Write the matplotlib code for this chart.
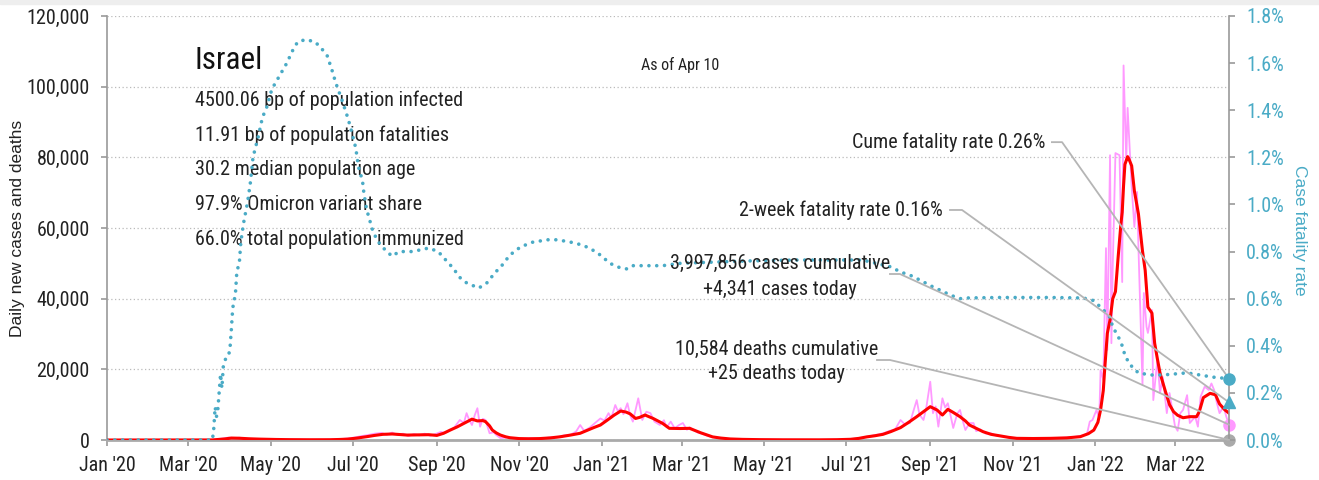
import numpy as np
import pandas as pd
import matplotlib
matplotlib.use("Agg")
import matplotlib.pyplot as plt
from matplotlib import font_manager
from matplotlib.patches import Rectangle
from matplotlib.ticker import FuncFormatter, MultipleLocator

# ---------------------------------------------------------------- data
START = pd.Timestamp("2020-01-01")
END = pd.Timestamp("2022-04-10")

# case fatality rate (%), keyed by days since 2020-01-01
cfr_day = [0, 78, 79, 80, 81, 82, 84, 85, 86, 88, 90, 91, 92, 93, 95, 96, 98, 99, 101, 104,
           106, 108, 112, 115, 118, 122, 126, 130, 133, 137, 141, 147, 154, 159, 163, 167,
           169, 174, 178, 180, 184, 186, 189, 190, 192, 195, 197, 202, 207, 211, 216, 226,
           238, 245, 252, 256, 261, 266, 275, 281, 287, 292, 298, 306, 315, 326, 333, 343,
           350, 357, 365, 372, 380, 385, 389, 400, 411, 424, 448, 473, 510, 559, 574, 580,
           587, 594, 601, 611, 616, 624, 631, 636, 660, 698, 722, 729, 736, 742, 744, 748,
           751, 753, 756, 759, 763, 768, 773, 781, 799, 818, 830]
cfr_pct = [0, 0, 0.05, 0.14, 0.10, 0.13, 0.28, 0.22, 0.31, 0.35, 0.36, 0.39, 0.47, 0.56, 0.62,
           0.71, 0.76, 0.84, 0.92, 1.01, 1.09, 1.20, 1.29, 1.37, 1.41, 1.49, 1.53, 1.57, 1.60,
           1.65, 1.69, 1.70, 1.69, 1.66, 1.63, 1.56, 1.52, 1.44, 1.37, 1.33, 1.24, 1.16, 1.10,
           1.05, 0.98, 0.92, 0.88, 0.83, 0.80, 0.78, 0.80, 0.80, 0.815, 0.80, 0.755, 0.73,
           0.69, 0.667, 0.645, 0.667, 0.71, 0.74, 0.785, 0.82, 0.84, 0.85, 0.85, 0.84, 0.83,
           0.815, 0.785, 0.75, 0.73, 0.726, 0.74, 0.74, 0.74, 0.75, 0.755, 0.76, 0.764, 0.764,
           0.743, 0.735, 0.713, 0.70, 0.68, 0.65, 0.637, 0.615, 0.60, 0.603, 0.605, 0.605,
           0.603, 0.594, 0.56, 0.52, 0.48, 0.44, 0.40, 0.36, 0.327, 0.306, 0.285, 0.28, 0.276,
           0.276, 0.285, 0.267, 0.26]

# 7-day average of new cases
avg_day = [0, 70, 78, 82, 87, 92, 98, 105, 113, 125, 135, 150, 165, 172, 178, 185, 192, 198,
           204, 211, 217, 222, 231, 238, 244, 249, 254, 259, 263, 267, 270, 274, 278, 280, 283,
           285, 288, 291, 295, 298, 305, 312, 320, 328, 335, 343, 350, 355, 360, 365, 370, 375,
           380, 384, 387, 391, 394, 398, 404, 411, 416, 424, 431, 435, 439, 444, 448, 454, 461,
           470, 483, 500, 527, 540, 550, 556, 562, 568, 574, 580, 587, 593, 599, 604, 609, 614,
           618, 622, 626, 631, 635, 638, 643, 648, 654, 661, 667, 673, 685, 698, 710, 720, 726,
           730, 733, 735, 737, 738, 740, 742, 744, 746, 748, 750, 751, 752, 753, 755, 756, 758,
           760, 763, 766, 768, 770, 773, 775, 777, 779, 783, 786, 789, 792, 796, 801, 806, 808,
           811, 816, 820, 823, 827, 830]
avg_cases = [0, 0, 20, 150, 300, 550, 500, 350, 250, 150, 100, 70, 80, 150, 250, 550, 930,
             1300, 1600, 1700, 1550, 1400, 1450, 1500, 1300, 1900, 2830, 3700, 4500, 5300,
             5900, 5400, 5500, 5200, 4000, 2830, 2000, 1400, 900, 650, 400, 350, 400, 600, 900,
             1400, 1900, 2700, 3500, 4240, 5600, 7000, 8200, 7900, 7400, 6100, 6400, 7070, 6100,
             4700, 3300, 3250, 3300, 2700, 2070, 1400, 880, 550, 300, 180, 100, 60, 50, 90, 200,
             450, 880, 1200, 1600, 2400, 3500, 5000, 6600, 8000, 9430, 8500, 7070, 8680, 7800,
             6600, 5400, 4240, 3300, 2360, 1600, 1130, 750, 470, 420, 470, 600, 940, 1800, 2800,
             5000, 8500, 14000, 19800, 30200, 34000, 40000, 42000, 51800, 61000, 64500, 72000,
             78000, 80200, 79500, 77600, 70500, 64000, 53500, 48000, 37600, 35900, 27400, 23000,
             18900, 13700, 10000, 8000, 7000, 6300, 6600, 6600, 8000, 12000, 13200, 12800,
             10200, 8500, 7600]

# reported daily new cases
daily_day = [0, 70, 78, 82, 86, 90, 94, 98, 102, 108, 115, 125, 140, 160, 172, 178, 183, 188,
             193, 198, 203, 207, 211, 215, 219, 223, 227, 231, 235, 239, 243, 247, 250, 254, 257,
             261, 264, 266, 268, 270, 272, 274, 276, 278, 280, 283, 286, 288, 291, 296, 300, 306,
             313, 320, 327, 333, 338, 343, 347, 350, 353, 357, 361, 365, 368, 371, 373, 376, 378,
             380, 382, 385, 387, 389, 391, 393, 396, 399, 402, 405, 409, 412, 414, 417, 420, 423,
             426, 429, 431, 434, 437, 440, 444, 448, 453, 460, 470, 485, 500, 527, 542, 550, 556,
             562, 566, 571, 575, 579, 583, 587, 590, 594, 596, 599, 601, 604, 606, 609, 611, 613,
             615, 618, 620, 622, 624, 626, 629, 631, 633, 635, 638, 641, 643, 646, 650, 654, 658,
             663, 670, 680, 695, 708, 716, 722, 725, 727, 729, 732, 734, 735, 737, 739, 740, 742,
             743, 744, 746, 749, 751, 752, 754, 755, 757, 758, 760, 762, 763, 766, 767, 769, 770,
             773, 774, 777, 779, 781, 784, 786, 790, 792, 794, 796, 799, 801, 805, 807, 809, 812,
             815, 817, 819, 821, 823, 826, 828, 830]
daily_cases = [0, 0, 60, 250, 450, 700, 500, 650, 400, 300, 250, 120, 90, 60, 200, 450, 700,
               1100, 1400, 1800, 2000, 1500, 2100, 1400, 1800, 1100, 1700, 1300, 1800, 1200,
               1700, 2300, 2000, 2830, 3600, 5660, 4800, 7600, 5600, 4240, 7000, 9000, 3770,
               6000, 5660, 1900, 2200, 1400, 550, 700, 500, 350, 500, 350, 700, 750, 1300, 1500,
               2400, 4240, 2600, 3500, 4800, 6100, 5500, 7600, 6200, 9900, 8100, 9000, 7300,
               10400, 7000, 5200, 8500, 11800, 5660, 8000, 7600, 5200, 4240, 5600, 3600, 5200,
               3300, 4200, 4800, 2900, 3600, 2830, 2100, 1800, 1200, 800, 550, 300, 200, 100, 60,
               40, 120, 250, 450, 900, 1200, 1600, 2000, 2600, 3000, 5660, 4500, 4800, 7500,
               11300, 7200, 5660, 9000, 16500, 7600, 9500, 3770, 11800, 9200, 10400, 7000, 3400,
               7500, 8500, 5500, 2830, 4800, 4800, 2500, 3000, 1800, 1900, 1200, 1000, 600, 450,
               500, 650, 900, 1300, 1800, 5200, 5660, 8500, 6000, 19800, 17000, 54300, 25500,
               80600, 27400, 49000, 81200, 80600, 44700, 106000, 79000, 94000, 79000, 71600,
               60300, 70200, 54600, 15600, 41600, 32000, 30300, 36800, 11300, 22600, 13300,
               17800, 7600, 13300, 4000, 2600, 7600, 8500, 12700, 4800, 6600, 3770, 12250, 15100,
               14150, 16000, 14150, 10500, 7600, 9430, 6600, 4341]

cases_today = 4341
deaths_today = 25
total_cases = 3997856
total_deaths = 10584
cume_cfr = 0.26
two_week_cfr = 0.16

country = "Israel"
stats_lines = [
    "4500.06 bp of population infected",
    "11.91 bp of population fatalities",
    "30.2 median population age",
    "97.9% Omicron variant share",
    "66.0% total population immunized",
]
as_of = "As of Apr 10"

# ---------------------------------------------------------------- fonts
available = {f.name for f in font_manager.fontManager.ttflist}
narrow = "DejaVu Sans"
for fam in ["Roboto Condensed", "Liberation Sans Narrow", "DejaVu Sans"]:
    if fam in available:
        narrow = fam
        break
wide = "Liberation Sans" if "Liberation Sans" in available else "DejaVu Sans"
plt.rcParams["font.family"] = [narrow, "DejaVu Sans"]
plt.rcParams["font.stretch"] = "condensed"
scale = 1.0 if narrow != "DejaVu Sans" else 0.82
FS = 14.5 * scale

TEAL = "#4aabc6"
PINK = "#ff99ff"
RED = "#ff0000"
GREY = "#999999"
LEADER = "#b5b5b5"


def to_dates(days):
    return START + pd.to_timedelta(np.asarray(days, dtype=float), unit="D")


# ---------------------------------------------------------------- figure
fig = plt.figure(figsize=(13.19, 4.8), dpi=100)
fig.patches.append(Rectangle((0, 1 - 4 / 480), 1, 4 / 480, transform=fig.transFigure,
                             color="#eeeeee", zorder=0))
ax = fig.add_axes([107 / 1319, 40 / 480, 1122 / 1319, 424 / 480])
ax2 = ax.twinx()

ax.set_xlim(START, END)
ax.set_ylim(0, 120000)
ax2.set_ylim(0, 1.8)

ax.plot(to_dates(daily_day), daily_cases, color=PINK, lw=1.3, zorder=2)
ax.plot(to_dates(avg_day), avg_cases, color=RED, lw=2.2, zorder=3)
ax2.plot(to_dates(cfr_day), cfr_pct, color=TEAL, lw=2.6, linestyle=(0, (0.01, 2.15)),
         dash_capstyle="round", zorder=4)

# grid and axes
ax.yaxis.set_major_locator(MultipleLocator(20000))
ax.yaxis.set_major_formatter(FuncFormatter(lambda v, p: f"{v:,.0f}"))
ax.yaxis.grid(True, linestyle=(0, (1, 2)), color="#bbbbbb", lw=0.9)
ax.set_axisbelow(True)
ax2.yaxis.set_major_locator(MultipleLocator(0.2))
ax2.yaxis.set_major_formatter(FuncFormatter(lambda v, p: f"{v:.1f}%"))

ticks = pd.date_range("2020-01-01", "2022-03-01", freq="2MS")
ax.set_xticks(ticks)
ax.set_xticklabels([t.strftime("%b '%y") for t in ticks])

for s in ["top", "right"]:
    ax.spines[s].set_visible(False)
for s in ["top", "left", "bottom"]:
    ax2.spines[s].set_visible(False)
ax.spines["left"].set_color(GREY)
ax.spines["left"].set_linewidth(1.2)
ax.spines["bottom"].set_color("#aaaaaa")
ax.spines["bottom"].set_linewidth(2)
ax2.spines["right"].set_color(GREY)
ax2.spines["right"].set_linewidth(1.2)

ax.tick_params(axis="y", length=4.5, width=1.2, color=GREY, pad=8, labelsize=FS,
               labelcolor="#222222")
ax.tick_params(axis="x", length=4.5, width=1.2, color=GREY, pad=7, labelsize=FS,
               labelcolor="#222222")
ax2.tick_params(axis="y", length=4.5, width=1.2, color=GREY, pad=8, labelsize=FS,
                labelcolor=TEAL)

fig.text(18 / 1319, 0.525, "Daily new cases and deaths", rotation=90, ha="center",
         va="center", fontsize=12.5, family=wide, stretch="normal", color="#222222")
fig.text(1300 / 1319, 0.521, "Case fatality rate", rotation=270, ha="center", va="center",
         fontsize=12.5, family=wide, stretch="normal", color=TEAL)

# title block
ax.text(0.0784, 0.896, country, transform=ax.transAxes, fontsize=22.5 * scale, ha="left",
        va="center", color="#111111")
for i, line in enumerate(stats_lines):
    ax.text(0.0784, 0.802 - i * 0.0825, line, transform=ax.transAxes, fontsize=FS,
            ha="left", va="center", color="#222222")
ax.text(0.511, 0.884, as_of, transform=ax.transAxes, fontsize=11.5 * scale, ha="center",
        va="center", color="#222222")

# end-of-series markers
pct_to_cases = 120000 / 1.8
ax2.plot([END], [cume_cfr], "o", color=TEAL, ms=8, clip_on=False, zorder=6)
ax2.plot([END], [two_week_cfr], "^", color=TEAL, ms=8, clip_on=False, zorder=6)
ax.plot([END], [cases_today], "o", color=PINK, ms=8, clip_on=False, zorder=6)
ax.plot([END], [deaths_today], "o", color="#aaaaaa", ms=8, clip_on=False, zorder=6)


# labels with leader lines (drawn in left-axis units)
def leader(x0, x1, y, target):
    xs = to_dates([x0, x1, (END - START).days])
    ax2.plot(xs, [y, y, target], color=LEADER, lw=1.3, transform=ax.transData,
             zorder=5, clip_on=False)


ax2.text(to_dates([694])[0], 84300, f"Cume fatality rate {cume_cfr:.2f}%", fontsize=FS,
         ha="right", va="center", transform=ax.transData, color="#222222", zorder=7)
leader(699, 706.5, 84300, cume_cfr * pct_to_cases)

ax2.text(to_dates([618.4])[0], 65100, f"2-week fatality rate {two_week_cfr:.2f}%",
         fontsize=FS, ha="right", va="center", transform=ax.transData, color="#222222",
         zorder=7)
leader(623.6, 632.5, 65100, two_week_cfr * pct_to_cases)

ax2.text(to_dates([498])[0], 50100, f"{total_cases:,} cases cumulative", fontsize=FS,
         ha="center", va="center", transform=ax.transData, color="#222222", zorder=7)
ax2.text(to_dates([498])[0], 42700, f"+{cases_today:,} cases today", fontsize=FS,
         ha="center", va="center", transform=ax.transData, color="#222222", zorder=7)
leader(579.2, 586.6, 46980, cases_today)

ax2.text(to_dates([495])[0], 25750, f"{total_deaths:,} deaths cumulative", fontsize=FS,
         ha="center", va="center", transform=ax.transData, color="#222222", zorder=7)
ax2.text(to_dates([495])[0], 18700, f"+{deaths_today:,} deaths today", fontsize=FS,
         ha="center", va="center", transform=ax.transData, color="#222222", zorder=7)
leader(569.6, 579.2, 22640, deaths_today)

fig.savefig("out.png", dpi=100)
